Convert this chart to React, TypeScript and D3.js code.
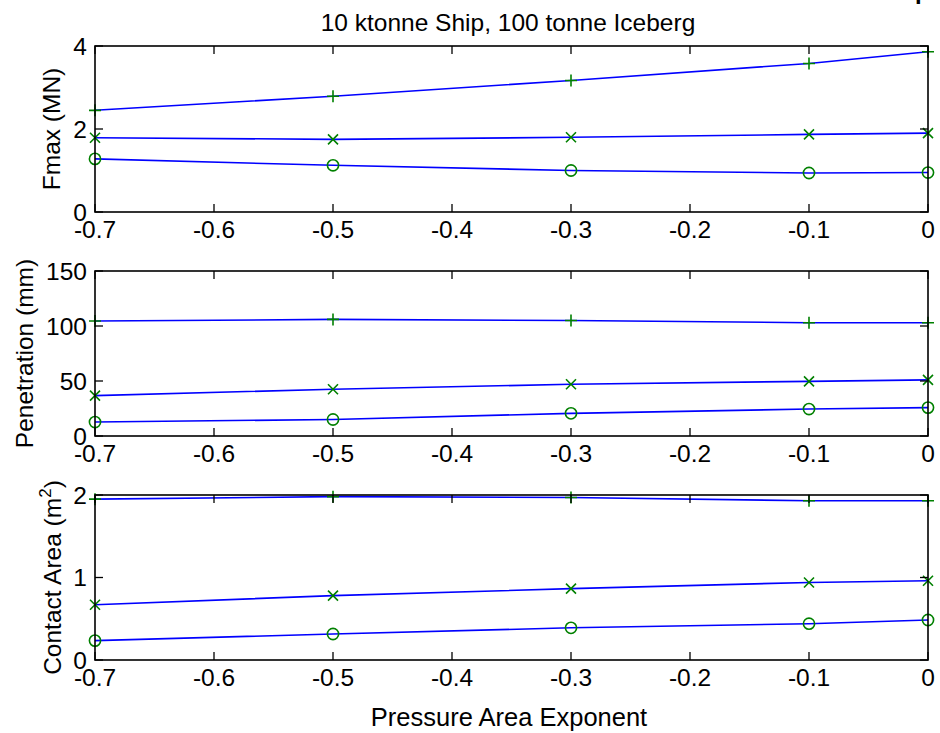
import React from "react";
import * as d3 from "d3";

const exponents = [-0.7, -0.5, -0.3, -0.1, 0];
const xTicks = [-0.7, -0.6, -0.5, -0.4, -0.3, -0.2, -0.1, 0];

const fmaxPlus = [2.45, 2.79, 3.17, 3.58, 3.86];
const fmaxCross = [1.79, 1.75, 1.8, 1.87, 1.9];
const fmaxCircle = [1.28, 1.125, 1.0, 0.94, 0.95];

const penPlus = [104.5, 106, 105, 103, 103];
const penCross = [36.7, 42.5, 47, 49.7, 51];
const penCircle = [12.7, 15, 20.6, 24.5, 25.8];

const areaPlus = [1.95, 1.98, 1.97, 1.93, 1.93];
const areaCross = [0.67, 0.78, 0.865, 0.94, 0.96];
const areaCircle = [0.235, 0.315, 0.39, 0.44, 0.485];

const fmaxTicks = [0, 2, 4];
const penTicks = [0, 50, 100, 150];
const areaTicks = [0, 1, 2];

const titleText = "10 ktonne Ship, 100 tonne Iceberg";
const xLabelText = "Pressure Area Exponent";

const W = 940;
const H = 733;
const FONT = "'Liberation Sans', Arial, Helvetica, sans-serif";
const LEFT = 95;
const RIGHT = 928;
const TICK = 8;

const x = d3.scaleLinear().domain([-0.7, 0]).range([LEFT, RIGHT]);

type Panel = {
  top: number;
  bottom: number;
  domain: [number, number];
  ticks: number[];
  plus: number[];
  cross: number[];
  circle: number[];
  labelX: number;
  label: React.ReactNode;
};

const panels: Panel[] = [
  { top: 46, bottom: 212, domain: [0, 4], ticks: fmaxTicks, plus: fmaxPlus, cross: fmaxCross, circle: fmaxCircle, labelX: 60, label: "Fmax (MN)" },
  { top: 271, bottom: 436, domain: [0, 150], ticks: penTicks, plus: penPlus, cross: penCross, circle: penCircle, labelX: 33, label: "Penetration (mm)" },
  {
    top: 495, bottom: 660, domain: [0, 2], ticks: areaTicks, plus: areaPlus, cross: areaCross, circle: areaCircle, labelX: 61,
    label: (
      <>
        Contact Area (m<tspan dy={-10} fontSize={17}>2</tspan><tspan dy={10}>)</tspan>
      </>
    ),
  },
];

const fmt = (v: number) => String(Math.round(v * 10) / 10);

function PanelView({ p }: { p: Panel }) {
  const y = d3.scaleLinear().domain(p.domain).range([p.bottom, p.top]);
  const line = d3
    .line<number>()
    .x((_, i) => x(exponents[i]))
    .y((d) => y(d));
  const green = "#008000";
  const blue = "#0000ff";
  const series = [p.plus, p.cross, p.circle];
  return (
    <g>
      <rect x={LEFT} y={p.top} width={RIGHT - LEFT} height={p.bottom - p.top} fill="white" stroke="none" />
      {series.map((s, i) => (
        <path key={i} d={line(s) || ""} fill="none" stroke={blue} strokeWidth={1.6} />
      ))}
      {p.plus.map((v, i) => {
        const cx = x(exponents[i]);
        const cy = y(v);
        return (
          <path key={"p" + i} d={`M${cx - 6},${cy}H${cx + 6}M${cx},${cy - 6}V${cy + 6}`} stroke={green} strokeWidth={1.6} fill="none" />
        );
      })}
      {p.cross.map((v, i) => {
        const cx = x(exponents[i]);
        const cy = y(v);
        const r = 5;
        return (
          <path key={"x" + i} d={`M${cx - r},${cy - r}L${cx + r},${cy + r}M${cx - r},${cy + r}L${cx + r},${cy - r}`} stroke={green} strokeWidth={1.6} fill="none" />
        );
      })}
      {p.circle.map((v, i) => (
        <circle key={"c" + i} cx={x(exponents[i])} cy={y(v)} r={5.6} stroke={green} strokeWidth={1.6} fill="none" />
      ))}
      {xTicks.map((t) => (
        <g key={"xt" + t}>
          <line x1={x(t)} x2={x(t)} y1={p.bottom} y2={p.bottom - TICK} stroke="black" strokeWidth={1.3} />
          <line x1={x(t)} x2={x(t)} y1={p.top} y2={p.top + TICK} stroke="black" strokeWidth={1.3} />
          <text x={x(t)} y={p.bottom + 26} textAnchor="middle" fontSize={24.5} fontFamily={FONT} fill="black">
            {fmt(t)}
          </text>
        </g>
      ))}
      {p.ticks.map((t) => (
        <g key={"yt" + t}>
          <line x1={LEFT} x2={LEFT + TICK} y1={y(t)} y2={y(t)} stroke="black" strokeWidth={1.3} />
          <line x1={RIGHT} x2={RIGHT - TICK} y1={y(t)} y2={y(t)} stroke="black" strokeWidth={1.3} />
          <text x={LEFT - 8} y={y(t)} dy="0.36em" textAnchor="end" fontSize={24.5} fontFamily={FONT} fill="black">
            {fmt(t)}
          </text>
        </g>
      ))}
      <rect x={LEFT} y={p.top} width={RIGHT - LEFT} height={p.bottom - p.top} fill="none" stroke="black" strokeWidth={1.6} />
      <text
        transform={`translate(${p.labelX},${(p.top + p.bottom) / 2}) rotate(-90)`}
        textAnchor="middle"
        fontSize={24.5}
        fontFamily={FONT}
        fill="black"
      >
        {p.label}
      </text>
    </g>
  );
}

export default function App() {
  return (
    <svg width={W} height={H} style={{ position: "absolute", left: 0, top: 0, background: "white" }}>
      <rect x={0} y={0} width={W} height={H} fill="white" />
      <text x={915} y={-1} fontSize={24} fontWeight="bold" fontFamily={FONT} fill="black">p</text>
      <text x={508} y={31} textAnchor="middle" fontSize={24.5} fontFamily={FONT} fill="black">
        {titleText}
      </text>
      {panels.map((p, i) => (
        <PanelView key={i} p={p} />
      ))}
      <text x={509} y={726} textAnchor="middle" fontSize={25.5} fontFamily={FONT} fill="black">
        {xLabelText}
      </text>
    </svg>
  );
}
